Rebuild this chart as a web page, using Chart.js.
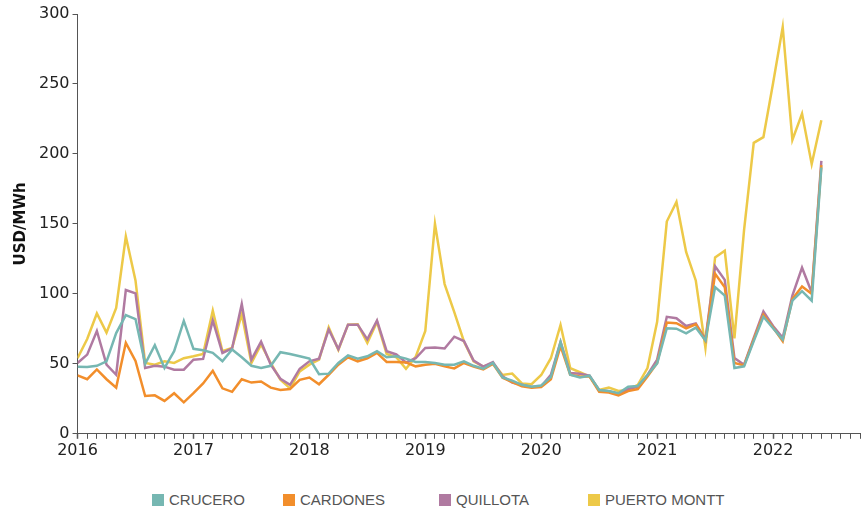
<!DOCTYPE html>
<html>
<head>
<meta charset="utf-8">
<script src="https://cdn.jsdelivr.net/npm/chart.js@4.4.1/dist/chart.umd.min.js"></script>
<style>
  body { margin: 0; background: #fff; }
  #wrap { position: relative; width: 862px; height: 508px; }
  #chart { position: absolute; left: 0; top: 0; }
  #legend { position: absolute; left: 0; top: 491px; width: 862px; height: 18px;
            font-family: "Liberation Sans", sans-serif; font-size: 15px; color: #555; }
  .item { position: absolute; top: 0; display: flex; align-items: center; white-space: nowrap; }
  .box { width: 12px; height: 12px; margin-right: 5px; }
</style>
</head>
<body>
<div id="wrap">
  <canvas id="chart" width="862" height="478"></canvas>
  <div id="legend"></div>
</div>
<script>
// monthly prices, Jan 2016 .. Jun 2022
const yearLabels = ['2016', '2017', '2018', '2019', '2020', '2021', '2022']
const seriesNames = ['CRUCERO', 'CARDONES', 'QUILLOTA', 'PUERTO MONTT']
const seriesColors = ['#76b7b2', '#f28e2b', '#b07aa1', '#edc948']
const legendX = [152, 283, 439, 588]

const crucero = [48, 47.7, 48.6, 51.8, 72, 84.8, 82, 50, 63.3, 47, 59, 80.7,
  60.7, 59.7, 57.8, 51.8, 60.2, 54.7, 48.6, 47, 48.6, 58.3, 57, 55.4,
  53.7, 42.6, 43, 50.6, 56, 53.7, 55.4, 59, 54.7, 55.4, 53.7, 51.3,
  51.3, 50.6, 49.4, 49.4, 51.8, 48.6, 46.5, 50.6, 40.2, 38, 35, 33.7,
  34.5, 40.5, 65.5, 42.2, 40.2, 41.5, 31.3, 30.6, 29, 33.7, 34.2, 42,
  50.3, 75.4, 75.1, 71.8, 75.9, 66.7, 104.8, 98.7, 47, 48.2, 66.2, 83.6,
  75.4, 67.4, 95.1, 101.9, 95.1, 190.3]
const cardones = [41.7, 39, 46, 39, 33, 65, 52, 27, 27.5, 23.5, 29, 22.5,
  29, 36, 45, 32.5, 30, 39, 36.6, 37.4, 33, 31.3, 32, 38.6,
  40.2, 35.4, 42.2, 49.4, 54.7, 51.8, 54, 57.8, 51.3, 51.3, 51, 48.2,
  49.4, 50, 48.2, 46.7, 50.6, 48, 46, 50, 40, 37, 34, 33,
  33.5, 39, 62.6, 42.2, 41, 41, 30, 29.5, 27.5, 30.5, 32, 41,
  50.6, 79.5, 79, 75.4, 78.3, 66.7, 114.4, 104.8, 50.6, 48.9, 67.4, 85,
  75.9, 66.2, 96.3, 105.2, 100, 192]
const quillota = [50.6, 56.6, 73.5, 49.4, 42.2, 102.8, 100.4, 47, 48.6, 48, 45.8, 45.8,
  53, 53.5, 81, 57.8, 61, 92.7, 53, 65.8, 49.4, 39.3, 35, 46.5,
  51.8, 53.7, 74.5, 60.5, 78, 78, 67.5, 81, 59, 56.7, 51, 54,
  61.4, 61.6, 61, 69.4, 66.3, 52.3, 48, 51.3, 41, 36.6, 35, 33.5,
  34, 42.2, 65.8, 43.4, 43, 41.5, 31, 30.5, 28.5, 32, 33.5, 42,
  53, 83.6, 82.6, 77, 78.8, 67.4, 119.7, 110, 54.2, 49.4, 68.6, 87.4,
  77, 68.6, 98.7, 118.7, 101, 195]
const puertoMontt = [54, 67.7, 86, 72.3, 90, 141, 109.6, 50.6, 49.4, 51.8, 50.6, 54,
  55.4, 57, 88, 59, 61.4, 85.5, 50.6, 63.9, 50.6, 38.6, 32.5, 44.6,
  49.4, 53, 76, 60, 78, 78.3, 65, 80, 57, 54.7, 46.5, 55,
  73.5, 150, 107, 87, 66, 51.8, 48, 50.6, 42, 43, 36, 35.5,
  42, 54, 77.8, 47, 44, 41, 31.3, 33, 30.6, 31.5, 35, 47,
  80, 151.7, 165.7, 130, 109.6, 61.4, 126, 130.8, 68.2, 145.7, 207.9, 212,
  250.5, 290.7, 210, 228.8, 192.7, 224]

const allSeries = [crucero, cardones, quillota, puertoMontt]

const datasets = allSeries.map((vals, k) => ({
  label: seriesNames[k],
  data: vals.map((v, i) => ({ x: i, y: v })),
  borderColor: seriesColors[k],
  backgroundColor: seriesColors[k],
  borderWidth: 2.5,
  pointRadius: 0,
  tension: 0
}))

const tickFont = { family: 'DejaVu Sans', size: 16 }

new Chart(document.getElementById('chart'), {
  type: 'line',
  data: { datasets: datasets },
  options: {
    responsive: false,
    animation: false,
    layout: { padding: { left: 12, top: 14, right: 2, bottom: 16 } },
    plugins: { legend: { display: false }, tooltip: { enabled: false } },
    scales: {
      x: {
        type: 'linear',
        min: 0,
        max: 81,
        border: { display: true, color: '#555', width: 1 },
        grid: {
          drawOnChartArea: false,
          drawTicks: true,
          tickLength: 5,
          tickColor: '#555',
          tickWidth: (c) => (c.tick && c.tick.value % 12 === 0 ? 1.5 : 1)
        },
        ticks: {
          stepSize: 1,
          autoSkip: false,
          maxRotation: 0,
          color: '#222',
          font: tickFont,
          padding: 2,
          callback: (v) => (v % 12 === 0 ? yearLabels[v / 12] : '')
        }
      },
      y: {
        min: 0,
        max: 300,
        border: { display: true, color: '#555', width: 1 },
        grid: { drawOnChartArea: false, drawTicks: true, tickLength: 5, tickColor: '#555' },
        ticks: { stepSize: 50, color: '#222', font: tickFont, padding: 3 },
        title: {
          display: true,
          text: 'USD/MWh',
          color: '#111',
          font: { family: 'DejaVu Sans', size: 15, weight: 'bold' },
          padding: { top: 0, bottom: 6 }
        }
      }
    }
  }
})

// legend below the plot
const legend = document.getElementById('legend')
seriesNames.forEach((name, k) => {
  const item = document.createElement('div')
  item.className = 'item'
  item.style.left = legendX[k] + 'px'
  item.innerHTML = '<div class="box" style="background:' + seriesColors[k] + '"></div>' + name
  legend.appendChild(item)
})
</script>
</body>
</html>
